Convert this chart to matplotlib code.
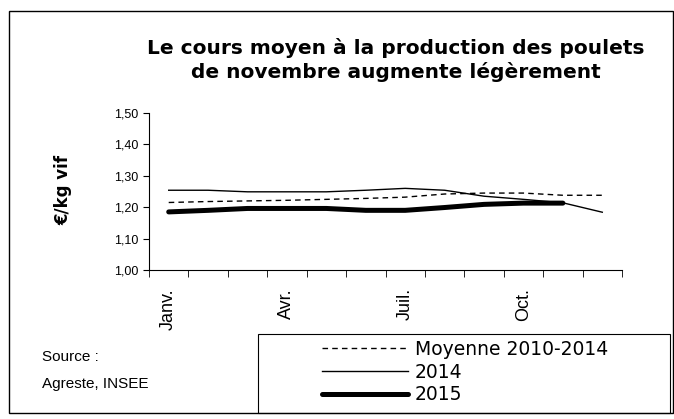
import matplotlib.pyplot as plt
from matplotlib.patches import Rectangle

plt.rcParams['font.family'] = ['Liberation Sans', 'DejaVu Sans']

# monthly data, €/kg vif
months = ['Janv.', 'Févr.', 'Mars', 'Avr.', 'Mai', 'Juin',
          'Juil.', 'Août', 'Sept.', 'Oct.', 'Nov.', 'Déc.']
moyenne = [1.215, 1.218, 1.220, 1.222, 1.225, 1.228,
           1.232, 1.242, 1.245, 1.245, 1.238, 1.238]
y2014 = [1.254, 1.254, 1.249, 1.249, 1.249, 1.254,
         1.260, 1.254, 1.235, 1.225, 1.214, 1.184]
y2015 = [1.185, 1.190, 1.196, 1.196, 1.196, 1.190,
         1.190, 1.199, 1.209, 1.213, 1.213]
shown_labels = ['Janv.', 'Avr.', 'Juil.', 'Oct.']
yticks = [1.0, 1.1, 1.2, 1.3, 1.4, 1.5]

W, H = 674, 419
wide = ['DejaVu Sans']  # the reference draws its big texts quite wide

fig = plt.figure(figsize=(W / 100, H / 100), dpi=100)

# outer frame
fig.patches.append(Rectangle((9 / W, 1 - 413 / H), 664 / W, 402 / H,
                             transform=fig.transFigure, fill=False,
                             edgecolor='black', linewidth=1))

ax = fig.add_axes([149 / W, 1 - 270 / H, 473 / W, 157 / H])

x = list(range(len(months)))
l_moy, = ax.plot(x, moyenne, color='black', linewidth=1, linestyle=(0, (4, 3)),
                 label='Moyenne 2010-2014')
l_14, = ax.plot(x, y2014, color='black', linewidth=1, label='2014')
l_15, = ax.plot(x[:len(y2015)], y2015, color='black', linewidth=3.6,
                solid_capstyle='round', label='2015')

ax.set_xlim(-0.5, len(months) - 0.5)
ax.set_ylim(1.0, 1.5)
ax.set_yticks(yticks)
ax.set_yticklabels([f'{v:.2f}'.replace('.', ',') for v in yticks], fontsize=9)

# tick marks between months, labels at every third month
ax.set_xticks([i - 0.5 for i in range(len(months) + 1)], minor=True)
ax.set_xticks([months.index(m) for m in shown_labels])
ax.set_xticklabels(shown_labels, rotation=90, fontsize=13)
ax.tick_params(axis='x', which='major', length=0, pad=13)
ax.tick_params(axis='x', which='minor', length=5, direction='out')
ax.tick_params(axis='y', length=4, direction='out')

for s in ['top', 'right']:
    ax.spines[s].set_visible(False)

ax.set_ylabel('€/kg vif', fontsize=12, fontweight='bold', family=wide)
ax.yaxis.set_label_coords(-0.163, 0.51)

fig.text(396 / W, 1 - 60 / H,
         'Le cours moyen à la production des poulets\nde novembre augmente légèrement',
         ha='center', va='center', fontsize=14.5, fontweight='bold', family=wide,
         linespacing=1.3)

fig.text(42 / W, 1 - 357 / H, 'Source :', fontsize=11, va='center')
fig.text(42 / W, 1 - 384 / H, 'Agreste, INSEE', fontsize=11, va='center')

# legend box
fig.patches.append(Rectangle((258 / W, 1 - 413 / H), 412 / W, 79 / H,
                             transform=fig.transFigure, fill=False,
                             edgecolor='black', linewidth=0.8))
leg = fig.legend(handles=[l_moy, l_14, l_15], loc='upper left',
                 bbox_to_anchor=(322 / W, 1 - 340 / H), frameon=False,
                 prop={'family': wide, 'size': 13.5},
                 handlelength=4.6, handletextpad=0.35,
                 labelspacing=0.2, borderpad=0, borderaxespad=0)

fig.savefig('out.png', dpi=100)
